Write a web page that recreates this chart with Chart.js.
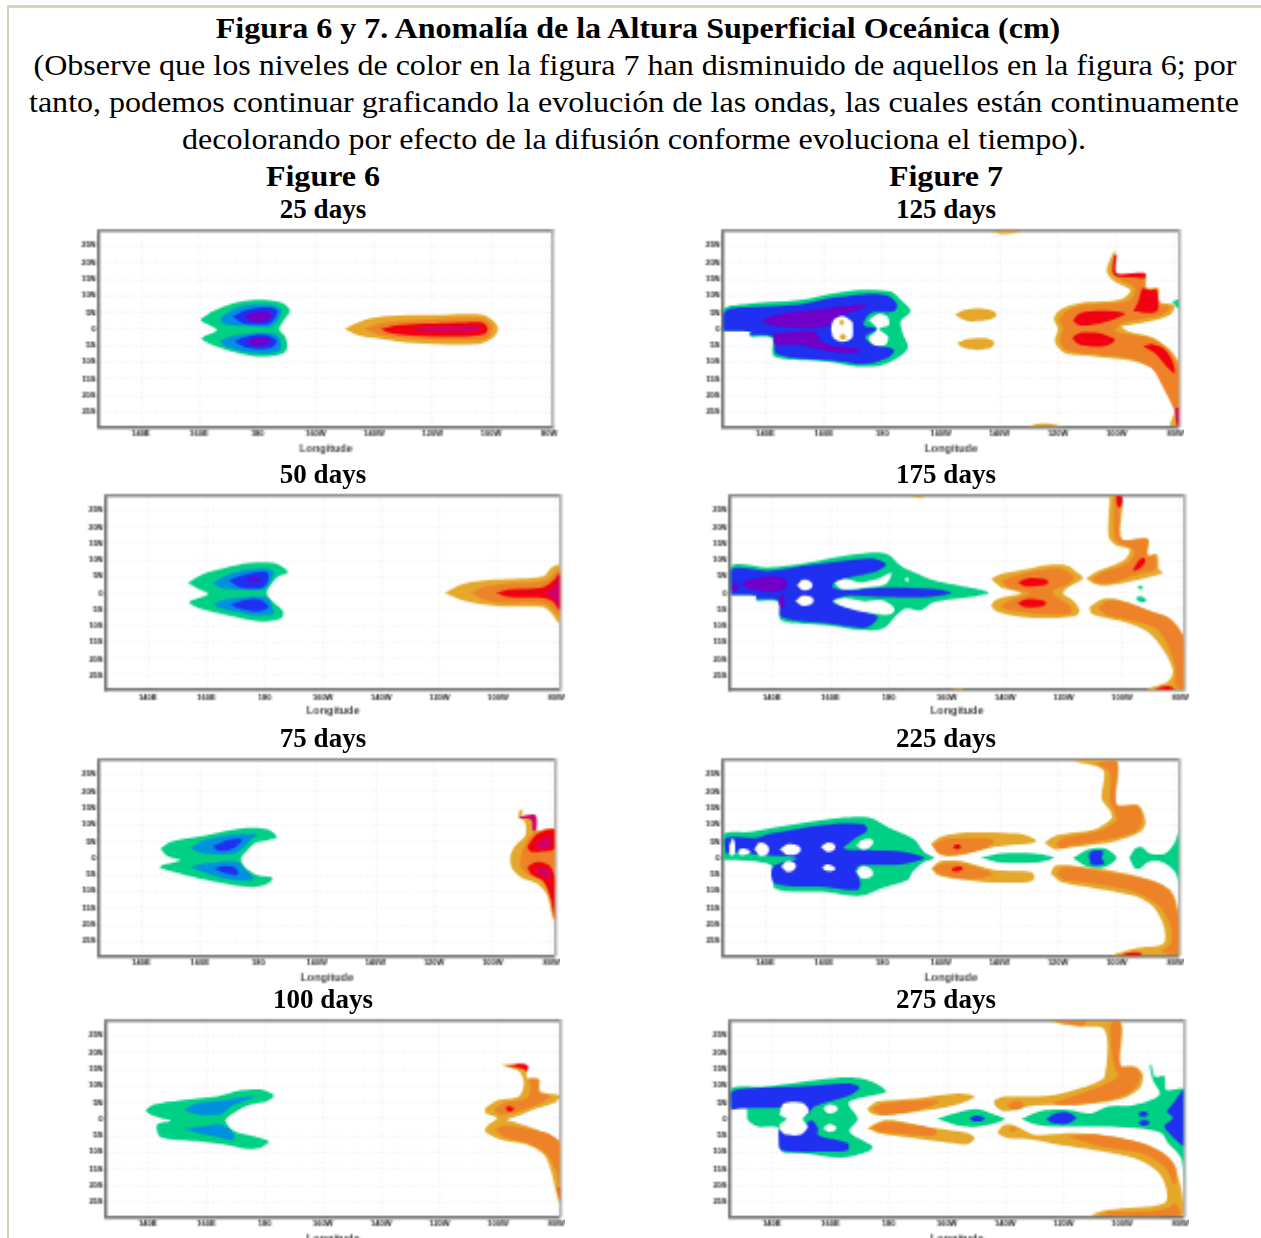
<!DOCTYPE html>
<html>
<head>
<meta charset="utf-8">
<title>Figura 6 y 7</title>
<script src="https://cdn.jsdelivr.net/npm/chart.js@4"></script>
<style>
html, body { margin: 0; padding: 0; background: #fff; width: 1261px; height: 1238px; overflow: hidden; }
#frame { position: absolute; left: 7px; top: 5px; width: 1252px; height: 1300px; border: 2px solid #d6d2bc; border-top-width: 3px; border-right: 1px solid #a8a68e; }
.txt { position: absolute; font-family: "Liberation Serif", serif; color: #000; white-space: nowrap; line-height: 1; }
.big { font-size: 30px; transform: translateX(-50%) scaleX(1.068); }
.bold { font-weight: bold; }
.day { font-size: 27px; font-weight: bold; transform: translateX(-50%); }
canvas { position: absolute; }
</style>
</head>
<body>
<div id="frame"></div>
<script>
// axis labels
const lonTicks = [140, 160, 180, 200, 220, 240, 260, 280];
const lonLabels = ['140E', '160E', '180', '160W', '140W', '120W', '100W', '80W'];
const latTicks = [25, 20, 15, 10, 5, 0, -5, -10, -15, -20, -25];
const latLabels = ['25N', '20N', '15N', '10N', '5N', '0', '5S', '10S', '15S', '20S', '25S'];

// every contour below is [longitude, latitude]

// 25 days
const d25Green = [[[160.6,3],[164.9,5.4],[170.6,7.4],[177.5,8.6],[184.3,8.6],[188.9,7.7],[191.2,5.4],[189.5,3.2],[187.5,0],[189.5,-2.3],[190.3,-5.3],[188.9,-7.3],[183.2,-8.3],[177.5,-8],[169.5,-6.3],[163.8,-4.6],[160.9,-2.8],[166.1,-.3],[160.9,2.2]]];
const d25Sky = [[[167.2,3.2],[171.8,6],[177.5,7.2],[184.3,7.2],[188.3,5.7],[186.6,2.2],[184.3,.7],[171.8,1],[168.3,1.7]],
  [[167.2,-3.6],[171.8,-2],[184.3,-1.3],[187.2,-2.3],[188.3,-5.3],[186.6,-7],[179.8,-7.3],[172.9,-6.3],[168.3,-4.8]]];
const d25Blue = [[[171.5,3.7],[176.3,5.7],[184.3,6.4],[186.9,5.2],[185.5,2.7],[183.2,1.4],[175.2,1.7]],
  [[172.3,-3.8],[176.3,-2.3],[183.2,-1.8],[186.6,-3.6],[184.9,-5.6],[179.8,-6],[175.2,-5.3]]];
const d25Purple = [[[175.7,3.7],[178.6,5],[183.2,5.2],[184.9,4],[183.2,2.4],[178.6,2]],
  [[176.3,-3.8],[179.8,-2.6],[183.2,-2.8],[184.3,-4],[182.1,-5],[178.6,-5]]];
const d25Amber = [[[209.9,0],[216.6,2.7],[224.6,3.9],[240.6,4.2],[256.6,4.4],[260.6,2.7],[262.5,0],[260.6,-2.8],[255.4,-4.6],[233.7,-4.3],[222.3,-3],[214.3,-1.8]]];
const d25Orange = [[[216.6,0],[222.3,1.7],[236,2.7],[256.6,3.2],[260,1.7],[260.6,0],[259.4,-2.3],[255.4,-3.3],[236,-3],[222.3,-1.8]]];
const d25Red = [[[222.3,0],[229.1,1.2],[252,2],[257.7,1.7],[258.9,0],[257.7,-1.6],[252,-2.3],[232.6,-2],[225.7,-1.3]]];
const d25Magenta = [[[232.6,0],[238.3,.6],[255.4,.7],[256.3,0],[255.4,-.8],[238.3,-.8]]];

// 50 days
const d50Green = [[[153.8,3],[159,5.7],[167,7.7],[175,9],[183,9],[186.4,7.7],[188.1,6.2],[184.7,5],[182.4,2.7],[180.7,0],[183,-2.8],[186.4,-5.6],[185.8,-7.6],[180.7,-8.6],[173.8,-8],[164.7,-6.3],[157.3,-4.6],[154.2,-2.8],[160.7,-.3],[157.3,1.2]]];
const d50Sky = [[[162.4,3],[167,5.4],[175,7.2],[183,6.7],[181.8,3.2],[179.5,1],[170.4,1],[164.7,1.7]],
  [[162.6,-3.3],[167,-1.8],[180.7,-1.3],[182.7,-4.3],[183,-6.3],[177.3,-6.8],[170.4,-5.8],[164.7,-4.6]]];
const d50Blue = [[[167.9,3.7],[172.7,5.4],[180.7,6.4],[181.3,4.2],[179.5,1.7],[171.5,1.7]],
  [[168.3,-3.6],[172.7,-2.3],[178.4,-2],[181.3,-4.3],[178.4,-5.6],[172.7,-5]]];
const d50Purple = [[[173.8,4],[176.1,4.6],[178.4,4.2],[176.7,3.4]]];
const d50Amber = [[[241.8,0],[248.1,2.7],[259.5,4],[275.5,5],[278.4,7.7],[281.3,8.4],[281.3,-9.3],[278.4,-6.3],[275.5,-4.3],[259.5,-4],[248.1,-2.3]]];
const d50Orange = [[[251,0],[255,1.7],[261.8,2.7],[276.7,3.7],[281.3,7.2],[281.3,-6.8],[276.7,-3.3],[261.8,-3],[255,-1.8]]];
const d50Red = [[[259.3,0],[264.1,1],[275.5,1.7],[279,3.7],[281.3,6],[281.3,-5.3],[279,-2.8],[275.5,-1.6],[264.1,-1.3]]];
const d50Magenta = [[[275.5,0],[279,1.7],[281.3,5],[281.3,-4.3],[279,-1.8]]];

// 75 days
const d75Green = [[[146.6,2.8],[150.1,4.8],[159.2,6.3],[168.3,8],[176.3,9],[183.2,8.6],[186.4,6.3],[183.2,5.3],[179.2,4.6],[176.3,2.3],[174.1,-.2],[175.8,-3],[179.8,-5.2],[184.9,-6],[183.2,-7.7],[178.1,-8.7],[170.6,-8],[159.2,-6],[152.3,-4.4],[146.4,-2.7],[153.5,-.7],[148.9,.6]]];
const d75Sky = [[[156.9,2.8],[160.3,5],[169.5,6.8],[179.8,7],[177.5,5.6],[174.6,2.8],[171.8,1.3],[161.5,1.3]],
  [[156.9,-2.7],[161.5,-1.7],[172.9,-1.2],[175.8,-3.7],[178.4,-6.4],[171.8,-6.7],[163.8,-5]]];
const d75Blue = [[[164.7,3.6],[169.5,5.3],[174.6,5.5],[172.3,3.3],[169.5,2.3],[166.1,2.3]],
  [[164.9,-3.2],[169.5,-2.5],[172.3,-3.2],[172.9,-5],[169.5,-4.7]]];
const d75Amber = [[[269,14],[270.3,14.6],[270,12.3],[274.6,12.3],[274.6,8.3],[281.3,8.3],[281.3,-19.2],[280.3,-17.2],[278.6,-11.2],[275.2,-7.7],[270.1,-6],[266.6,-3.2],[266.1,.8],[267.8,3.8],[271.2,6.8],[271,10.8],[268.9,12.3]]];
const d75Orange = [[[269.5,-.2],[271.2,4.3],[274.6,7.8],[281.3,8.3],[281.3,-10.2],[276.9,-6.7],[272.3,-5.2],[269.5,-2.7]]];
const d75Red = [[[271.8,3.3],[274.6,6.8],[278.1,8.3],[281.3,8.3],[281.3,2.8],[275.8,1.8],[272.9,2]],
  [[271.8,-2.7],[275.2,-1.2],[279.2,-2.2],[281.3,-6.2],[281.3,-18.7],[279.8,-12.2],[277.5,-7.2],[273.5,-5.2]]];
const d75Magenta = [[[268.9,12.3],[274.6,12.8],[274.9,8.3],[273.7,8.3],[273.3,11.3],[269.5,11.8]],
  [[274.1,3.3],[278.1,6],[280.3,5.6],[278.1,2.8]],
  [[274.6,-3.2],[278.1,-3.2],[279.8,-5.7],[276.3,-5]]];

// 100 days
const d100Green = [[[139.2,2.6],[142.1,4.3],[151.2,5.6],[163.8,6.8],[171.8,8.6],[178.6,8.8],[183.2,7],[180.9,5.3],[175.2,4.3],[169.5,1.8],[166.6,-.4],[169.5,-3.7],[175.2,-5],[181.5,-6.7],[179.2,-8.4],[174.6,-9],[168.3,-8],[156.9,-6.7],[144.3,-5.4],[143.2,-1.7],[148.3,-.7],[144.3,.3],[140.9,1.3]]];
const d100Sky = [[[152.3,2.8],[156.9,4.6],[164.9,5.6],[176.3,6.8],[172.9,5.3],[168.3,3.8],[164.9,1.3],[156.9,1.3]],
  [[152.3,-3.2],[159.2,-2.2],[166.1,-2],[169.5,-6],[162.6,-5.2]]];
const d100Amber = [[[260.9,16.3],[269.5,16],[270.1,12.3],[274.1,12],[274.6,8.3],[281.3,7],[279.8,5],[273.5,3.3],[266.6,.8],[263.2,-.4],[266.6,-1.2],[273.5,-3.2],[279.2,-5.7],[281.3,-6.7],[281.3,-25.7],[279.8,-21.2],[278.1,-15.2],[275.8,-10.7],[270.1,-7.7],[260.9,-6.2],[255.8,-4],[255.8,-2.7],[258.6,-.7],[259.8,.3],[255.8,1.8],[255.8,3.3],[259.8,5.6],[267.2,6.8],[268.9,10.8],[267.2,14.3]]];
const d100Orange = [[[258.6,2.8],[262.1,4.8],[270.1,6.3],[271.2,10.3],[270.6,12],[273.7,11.8],[274.1,7.8],[278.1,6.8],[273.5,4.3],[266.6,2.3],[260.9,1.3]],
  [[259.1,-3.2],[262.1,-2],[271.2,-3.2],[278.1,-4.7],[281.3,-7.7],[281.3,-21.2],[279.8,-15.2],[276.4,-10.2],[269,-7],[262.1,-5.4]]];
const d100Red = [[[262.6,3.3],[264.1,3.8],[265.5,3],[263.8,2.3]],
  [[262.6,16],[269.9,16.3],[269.9,14.3],[268.4,15]],
  [[280.6,-20.7],[281.3,-20.7],[281.3,-25.2]]];

// 125 days
const d125Green = [[[125.9,-.6],[125.9,6],[132.6,7.4],[152,8.7],[163.4,10.7],[172.6,11.7],[182.9,11.2],[186.3,8.7],[189.7,5.4],[186.3,2.2],[187.2,-1.8],[188.8,-5.6],[185.1,-8.8],[179.4,-11],[171.4,-11.3],[161.1,-9.8],[143.1,-8.3],[142.3,-2.8],[134.9,-2.3],[134.9,-.8]],
  [[278.9,8.2],[281.3,8.7],[281.3,6]]];
const d125Blue = [[[125.9,-.6],[125.9,4.7],[128,6],[132.6,6.4],[152,7.4],[163.4,9.4],[173.7,10.4],[181.7,10],[185.1,7.2],[184,5.2],[176,4.7],[173.7,1.2],[178.3,0],[174.3,-2.3],[176,-4.3],[184,-6.3],[181.7,-8.8],[174,-10.6],[165.7,-9.8],[144,-7.6],[142.6,-2.3],[134.9,-1.8],[134.9,-.8]]];
const d125Purple = [[[139,2.7],[144,4.2],[156.6,5.7],[174.9,7.4],[172.6,6],[165.7,3.7],[161.1,.7],[149.7,.4],[141.7,1.2]],
  [[143.1,-1.3],[156.6,-.8],[160,-4.3],[172.6,-6.3],[171.4,-7.3],[161.1,-6.6],[152,-4.8],[143.4,-4.6]]];
const d125Holes = [[[175.4,2.7],[178.3,4.4],[181.7,3.7],[182.3,1.2],[178.9,0],[182,-2.3],[181.1,-4.8],[177.1,-4.8],[175.4,-2.8],[178.3,0]],
  [[162.5,0],[163.4,2.7],[166.3,3.9],[169.7,2.2],[170,.2],[169.7,-2.8],[166.3,-4],[163.4,-2.8]]];
const d125Amber = [[[165.4,2],[166,2.7],[167,2],[166,1.2]],
  [[165.4,-2.4],[166.3,-1.6],[167.7,-2.4],[166.3,-3.3]],
  [[204.8,4.2],[208,5.7],[213.7,6.2],[218.3,5.2],[218.9,3.7],[216,2.7],[209.1,2.4]],
  [[205.5,-4.3],[209.1,-3],[214.9,-2.8],[218.3,-4],[217.1,-5.6],[212.6,-6.3],[208,-5.8]],
  [[216.6,29.4],[226.9,29.4],[221.7,28.4]],
  [[229.1,-29.4],[235.4,-28.3],[240.6,-29.4]],
  [[259.4,23.7],[260,16.7],[269.7,16.4],[270.3,12.4],[274.3,12.2],[274.5,8.2],[279.8,7],[278.3,4.2],[270.9,2.2],[264.6,1.2],[261.7,.7],[264,-.8],[271.4,-2.3],[277.7,-5.8],[281.3,-10.8],[281.3,-29.3],[278.3,-29],[280,-23.8],[277.1,-18.8],[273.7,-12.8],[266.3,-9.8],[252.6,-8.3],[242.3,-7.3],[238.9,-3.8],[240,0],[238.6,3.2],[241.1,6],[246.9,7.7],[254.9,8.2],[262.3,9.2],[264.6,11.7],[259.4,14.2],[256.6,17.2],[257.7,20.7]]];
const d125Orange = [[[240.2,2.7],[242.9,5.4],[249.1,7.2],[259.4,7.7],[264.6,8.7],[266.3,12.2],[260.6,15],[258.3,17.2],[259.4,22.7],[260,16.4],[269.1,15.7],[269.7,11.7],[273.7,11.2],[273.7,7.4],[278.3,6.7],[276,4.4],[268.6,3],[261.7,1.7],[259.4,-.8],[272,-3],[277.7,-6.3],[281.1,-11.8],[281.3,-27.8],[279.4,-23.8],[275.4,-16.8],[272,-11.8],[264,-8.8],[252.6,-7.6],[242.9,-6.3],[240.6,-3.3],[241.7,0]]];
const d125Red = [[[265.7,5.2],[267.4,8.2],[268.8,12.2],[270.9,11.7],[273.7,11.7],[273.7,5.2]],
  [[259.2,22.2],[260,22.2],[260,16.7],[269.7,16.7],[269.7,15.2],[268.6,15.2],[259.2,16.2]],
  [[245.1,2.7],[247.4,4.7],[254.9,5.4],[262.9,4.7],[258.3,2.7],[251.4,1.2],[246.9,1.2]],
  [[244.8,-2.8],[247.4,-1.3],[253.7,-1.3],[259.4,-3.3],[257.1,-4.8],[251.4,-5.3],[246.9,-4.6]],
  [[269.1,-5.3],[272,-4.6],[276.6,-6.3],[279.1,-9.8],[279.8,-13.3],[277.1,-11.3],[273.1,-7.3]]];
const d125Magenta = [[[280,-23.8],[281.3,-23.8],[281.3,-29.3],[280.6,-29]]];

// 175 days
const d175Green = [[[126.1,-.6],[126.1,8.2],[138.6,7.7],[150.1,8.7],[161.5,10.7],[174.1,12.2],[179.8,11.7],[184.3,8.2],[188.9,6.2],[195.8,3.7],[214.3,0],[195.8,-2.8],[191.2,-5.3],[187.8,-4.8],[185.5,-4.8],[182.6,-6.8],[178.1,-10.8],[170.6,-11.3],[159.2,-9.8],[143.2,-8.3],[142.3,-2.8],[134.6,-2.3],[134.6,-.8]],
  [[265.3,1.7],[266.4,2.2],[267.2,1.5],[266.1,1.2]],
  [[264.6,-1.6],[266.4,-1.1],[268.3,-2.3],[266.4,-2.8]]];
const d175Blue = [[[126.1,-.6],[126.1,7.2],[138.6,6.7],[150.1,8.2],[161.5,9.4],[174.1,10.4],[179.2,8.7],[176.3,6.7],[169.5,5.2],[161.5,3.2],[160.9,1.7],[166.1,1],[179.8,1.7],[195.8,1.2],[201.5,0],[193.5,-1.3],[179.8,-1.3],[166.1,-.8],[160.9,-2.5],[161.5,-3.3],[170.6,-5.3],[176.3,-7.3],[174,-9.8],[170.6,-10.6],[159.2,-9.3],[143.2,-7.3],[142.3,-2.3],[134.6,-1.8],[134.6,-.8]]];
const d175Holes = [[[161.5,3.2],[164.9,4.2],[170.6,3.2],[176.3,4.2],[180.9,6],[179.2,2.7],[172.9,1.7],[163.8,1.2]],
  [[160.9,-2.3],[164.9,-1.6],[171.8,-2.6],[178.1,-2.3],[182.1,-4.8],[180.3,-6.6],[170.6,-5.6],[163.8,-4]],
  [[148.6,2.2],[151.2,4],[154,2.2],[151.2,.8]],
  [[148,-2.5],[151.2,-.8],[154.4,-2.3],[151.2,-4]],
  [[185.6,4],[186.3,4.6],[187,4],[186.3,3.4]]];
const d175Purple = [[[129.5,2.7],[132.9,4],[144.1,4.4],[144.1,1],[132.9,1]],
  [[126.6,2.7],[128,3.2],[128,.7],[126.3,1]],
  [[142.6,-.8],[144.1,-.8],[143.8,-4.6],[142.6,-3.8]]];
const d175Amber = [[[215.2,4.2],[218.6,5.7],[227.8,7.2],[234.6,8.4],[241.5,8.2],[244.9,6],[246.6,4.4],[242.6,2.2],[239.8,0],[243.2,-2.3],[245.5,-5.3],[243.8,-7],[235.8,-7.6],[225.5,-7.3],[217.5,-5.8],[215.2,-3.8],[217.5,-1.8],[225.5,0],[218.6,1.7]],
  [[247.8,4.4],[251.8,6.7],[260.9,10],[262.6,13.2],[257.5,14.7],[255.4,17.2],[255.8,29],[255.2,29.2],[260,29.2],[260,16.4],[268.9,16.4],[268.9,11.7],[272.1,11.7],[272.6,7.2],[274.1,6],[264.3,3.7],[255.2,2.2],[250.6,2.7]],
  [[248.9,-4.3],[252.9,-2],[258.7,-2],[267.8,-4.8],[275.8,-7.8],[280.3,-12.8],[281.3,-17.8],[281.3,-29.3],[268.3,-29.3],[275.8,-26.8],[277.5,-23.8],[274.6,-17.8],[268.9,-11.8],[260.9,-8.8],[252.9,-7.3],[249.5,-6.3]],
  [[187.2,29.3],[192.3,29.3],[190,28.8]],
  [[200.9,-29.3],[206.1,-29.3],[203.8,-29]]];
const d175Orange = [[[218.6,3.7],[225.5,5.7],[234.6,7.2],[240.3,7],[243.5,4.7],[241.5,2.7],[236.3,.7],[236.9,-.8],[242.6,-4.3],[242.1,-6.3],[235.8,-6.6],[225.5,-5.8],[218.6,-4.3],[221.5,-2.3],[228.3,0],[220.9,1.7]],
  [[249.5,4.2],[252.9,6],[262,9],[264.3,12.7],[258.7,15.2],[257.5,16.7],[257.5,29.2],[259.6,29.2],[259.6,16.4],[268.7,16.2],[268.7,11.2],[271.4,11.2],[271.4,7.2],[265.4,5.7],[256.3,3],[251.8,3]],
  [[251.8,-4.8],[255.2,-2.3],[260.9,-2.8],[268.9,-5.3],[275.8,-7.3],[280.9,-12.8],[281.3,-19.8],[281.3,-29],[278.1,-27.8],[278.6,-23.8],[276.3,-16.8],[271.8,-10.8],[263.2,-8.3],[255.2,-6.8]]];
const d175Red = [[[224.3,3.2],[227.8,4.4],[233.5,4.2],[234.9,3.2],[232.4,2.2],[227.2,2]],
  [[224.1,-3],[227.8,-1.8],[233,-2.3],[234.1,-3.3],[231.2,-4.3],[226.6,-4.3]],
  [[263.8,7],[266.6,10.4],[268,10],[266.9,8.2],[264.3,6.7]],
  [[258,29.2],[260,29.2],[259.7,26.2],[258.6,26.2]],
  [[271.2,-29.3],[274.1,-28.3],[277.5,-28.6],[277.5,-29.3]]];

// 225 days
const d225Green = [[[125.9,-.7],[125.9,7],[134.9,7.8],[152,10.3],[165.7,12],[176,12],[181.7,9.3],[190.9,5.6],[194.3,1.8],[197.7,0],[194.3,-1.2],[190.3,-4.2],[188.6,-6.7],[179.4,-9.2],[172.6,-11.4],[161.1,-10.2],[143.4,-9.2],[142.6,-2.7],[134.9,-1]],
  [[213.7,0],[220.6,1.3],[232,1.3],[238.6,0],[232,-1.4],[220.6,-1.4]],
  [[245.1,0],[250.3,2.6],[256,2.8],[260,0],[256,-2.7],[250.3,-2.7]],
  [[264.3,0],[266.3,2.8],[268.6,3.3],[271.4,1.3],[276.6,1.3],[280,4.8],[281.3,8.6],[281.3,-7.7],[280,-4.2],[275.4,-1.2],[270.9,-1.2],[268,-3.2],[266.3,-3.2]]];
const d225Blue = [[[126.6,1.3],[126.6,6],[137.1,6],[140.6,7],[152,8.8],[165.7,10.3],[173.7,10],[174.9,8.3],[170.3,5.6],[166.9,2.8],[177.1,2.3],[186.3,2],[194.5,0],[186.3,-2],[178.3,-2.2],[171.4,-2.7],[172.6,-7.7],[171.4,-9.7],[161.1,-8.7],[143.4,-7.7],[142.6,-2.7],[150.9,-.2],[138.3,.8],[132.6,1.8]],
  [[250.3,.8],[251.4,2],[255.4,2],[254.9,0],[255.9,-1.7],[251.4,-2.2],[250.9,-.7]]];
const d225Holes = [[[127.8,3.8],[129.1,5.8],[129.7,1.3],[128.2,.8]],
  [[130.9,2.3],[132.6,2.8],[134.9,1.8],[131.5,.8]],
  [[136.3,2.6],[138.5,4.6],[141.4,2.6],[138.9,.5]],
  [[145,2.6],[148.6,4.2],[152.2,2.6],[148.6,.8]],
  [[145.4,-2.6],[148,-1],[150.6,-2.4],[148,-4.2]],
  [[159,3.3],[161.7,4.6],[164,3.3],[161.7,1.8]],
  [[159.4,-2.7],[161.7,-2],[164,-3.4],[161.1,-4]],
  [[171,3.8],[174,5.6],[176.9,5],[174.3,2.6]],
  [[171,-4.2],[173.7,-2.5],[176.9,-4.7],[173.7,-6.2]]];
const d225Amber = [[[196.6,4.3],[200,6.3],[209.1,7.6],[226.3,7.3],[232.6,5.3],[230.3,4.3],[218.3,3.3],[206.9,.8],[200,.8]],
  [[196.8,-3.2],[200,-1],[206.9,-1],[218.3,-3.7],[230.9,-4.2],[232,-6],[229.8,-7.2],[217.1,-7.4],[205.7,-6.4],[198.9,-5.2]],
  [[235.4,4.6],[239.4,6.8],[252.6,8.6],[258.3,11.8],[257.7,14.3],[254.9,17.8],[255.4,26.3],[245.1,29],[260,29],[260,16.3],[267.4,15.8],[269.9,10.8],[268,7.8],[259.4,5],[245.7,3.3],[238.9,2.6]],
  [[237.5,-4.7],[238.9,-2.4],[243.4,-2.2],[260.6,-4.2],[272,-6.7],[278.9,-10.2],[281.3,-18.2],[281.3,-29.4],[258.9,-29.4],[266.3,-27.2],[276,-25.7],[276,-20.2],[272,-14.2],[265.1,-11.2],[250.3,-8.7],[241.1,-7.2]]];
const d225Orange = [[[197.1,3.8],[201.1,5.6],[213.7,6],[218.3,5.3],[214.9,2.8],[205.7,1],[199.4,1.3]],
  [[197.1,-3.2],[200.6,-1.7],[206.9,-1.7],[216,-4],[217.7,-5.2],[213.7,-6],[205.7,-6],[199.4,-4.7]],
  [[239.4,4.3],[242.3,6],[254.9,8.3],[260,11.3],[259.4,13.8],[257.7,16.8],[257.7,25.8],[253.1,28.3],[260,29],[260,16],[267.4,15.3],[268.8,10.8],[266.3,7.8],[257.1,5.6],[244.6,3.8],[240.6,3]],
  [[239.4,-4.7],[241.7,-2.7],[257.1,-4.4],[270.9,-6.7],[278.3,-10.2],[281.1,-18.2],[281.3,-29],[275.4,-28.2],[278.6,-25.7],[278.3,-20.2],[274.3,-14.2],[266.3,-10.2],[252.6,-7.7],[242.3,-6.7]]];
const d225Red = [[[204,3.3],[205.5,4],[206.9,3.3],[205.5,2.6]],
  [[203.7,-3.2],[207.1,-2.7],[207.1,-3.7],[204,-3.9]],
  [[261,-29.4],[265.1,-28.4],[268.6,-28.7],[266.3,-29.4]]];

// 275 days
const d275Green = [[[126.1,3.2],[126.1,9.2],[138.6,9.7],[155.8,11.7],[167.2,12.4],[174.1,11.2],[179.2,8.2],[172.9,6.7],[166.6,5.2],[166.6,3.7],[169.5,0],[166.6,-3.8],[174.6,-8.3],[172.9,-9.8],[163.8,-11.6],[150.1,-10.3],[143.2,-9.6],[142.3,-2.8],[135.2,-2.3],[131.8,-.3],[131.2,3.2]],
  [[196.7,0],[202.6,1.7],[210,3],[215.2,1.7],[219.8,0],[214.1,-1.8],[206.1,-2.3]],
  [[225.5,0],[232.3,2.4],[241.5,2.7],[249.5,1.7],[255.2,3.7],[264.3,4.2],[272.9,7.2],[270.6,11.7],[269.5,16.2],[270.1,16.2],[271.2,12.7],[274.6,12.7],[275.2,8.7],[281.3,8.7],[281.3,-19.8],[280.3,-11.8],[275.8,-7.3],[273.5,-4.3],[264.3,-2.8],[252.9,-2.3],[241.5,-2.3],[231.2,-1.8]]];
const d275Blue = [[[126.1,2.7],[126.3,8.2],[150.1,9.7],[166.1,10.7],[170.1,9.4],[166.6,7],[154.6,3.7],[152.3,1.2],[150.1,4.2],[143.2,3.4],[129.5,3.2]],
  [[142.3,-3.3],[150.1,-2.8],[153.5,-.3],[155.8,-2.8],[155.8,-4.8],[166.1,-7.3],[166.1,-9.3],[159.2,-9.8],[143.2,-9.3],[142.3,-5.8]],
  [[207.8,0],[210,1],[212.9,0],[210,-.8]],
  [[234.1,0],[237,1.7],[241.5,1.9],[244.3,.2],[240.9,-1.6],[236.3,-1.3]],
  [[275.2,2.2],[278.1,5.2],[281.3,8.7],[281.3,-7.8],[276.9,-4.8],[274.6,-2.3],[277.5,.2]],
  [[265.5,1.7],[267.8,2.2],[268.9,1.2],[266.6,.7]],
  [[265.5,-1],[267.8,-.3],[269.5,-1.3],[267.2,-2.1]]];
const d275Holes = [[[142.6,1.2],[144,4.6],[150.6,4.8],[152.8,2.2],[150.6,0],[152.4,-2.3],[150,-4.7],[144,-4.4],[142.6,-1.8],[145,0]],
  [[157.5,3.2],[159.8,4.4],[162.6,3.2],[159.8,1.7]],
  [[157.5,-2.8],[159.8,-1.5],[162.1,-2.8],[159.8,-4]]];
const d275Amber = [[[172.7,3.2],[176.3,5.2],[190.1,6.2],[203.8,7.7],[209.5,6.7],[204.9,4.7],[193.5,2.7],[178.6,1],[174.1,1.7]],
  [[172.7,-2.8],[177.5,-.6],[183.2,-.6],[195.8,-2.8],[207.2,-4.3],[209.5,-5.8],[207.2,-7.6],[198.1,-6.8],[184.3,-5.3],[176.3,-4.3]],
  [[216.3,5.7],[219.8,6.7],[225.5,6.7],[236.9,7.2],[250.6,10.7],[254.1,12.7],[254.1,26.7],[245,27.7],[235.8,29.2],[259.2,29.2],[259.5,16.2],[264.8,15.7],[267.2,13.2],[266.1,9.2],[259.8,6],[250.6,4.7],[230.1,4],[225.5,3.2],[219.2,2.4],[216.3,4.4]],
  [[217.3,-4.3],[219.2,-2],[223.2,-2],[230.1,-4.8],[241.5,-4.3],[252.9,-4.8],[268.9,-7.8],[276.9,-12.8],[280.3,-20.8],[280.9,-29],[249.5,-29],[255.2,-27.3],[274.6,-25.3],[275.2,-20.8],[272.3,-15.8],[264.3,-11.8],[250.6,-9.3],[239.2,-7.8],[230.1,-6.3],[220.9,-5.8]]];
const d275Orange = [[[174.6,3.2],[178.1,4.7],[190.1,5.4],[197.5,5.2],[190.1,2.7],[178.6,1.2],[175.7,2]],
  [[174.1,-2.8],[178.6,-1],[184.3,-1.3],[196.3,-3.3],[195.8,-5],[186.6,-4.6],[177.5,-4]],
  [[235.8,4.7],[244.9,7.2],[254.1,10.4],[258.7,12.7],[257.5,15.7],[256.4,21.2],[256.4,28.7],[259.5,29.2],[259.5,16],[264.3,15.4],[266.4,13.2],[264.3,9.2],[258.7,6.4],[249.5,4.7],[239.2,4.2]],
  [[220.9,4.2],[223.2,5.4],[226.1,4.7],[224.9,3],[222,3]],
  [[237,29.2],[247.2,29.2],[247.2,28.2],[241.5,28.4]],
  [[241.5,-5.3],[250.6,-4.6],[266.6,-7.3],[275.2,-10.8],[278.6,-14.8],[278.1,-19.8],[274.6,-14.3],[266.6,-10.3],[252.9,-8.3]],
  [[250.6,-29],[257.5,-27.8],[267.8,-27.8],[275.8,-26.8],[278.1,-25.3],[280.3,-29]],
  [[221.5,-3],[222.6,-2.6],[223.8,-3.3],[222.3,-3.8]]];

const levelColors = {
  green: '#00d084', sky: '#0090e0', blue: '#2030f0', purple: '#7000c8', hole: '#ffffff',
  amber: '#e5a82a', orange: '#ee8228', red: '#f00010', magenta: '#d0006a'
};

const panels = [
  { title: '25 days', box: [99, 229, 553, 426], levels: [['green', d25Green], ['sky', d25Sky], ['blue', d25Blue], ['purple', d25Purple], ['amber', d25Amber], ['orange', d25Orange], ['red', d25Red], ['magenta', d25Magenta]] },
  { title: '50 days', box: [106, 494, 559, 690], levels: [['green', d50Green], ['sky', d50Sky], ['blue', d50Blue], ['purple', d50Purple], ['amber', d50Amber], ['orange', d50Orange], ['red', d50Red], ['magenta', d50Magenta]] },
  { title: '75 days', box: [99, 758, 554, 955], levels: [['green', d75Green], ['sky', d75Sky], ['blue', d75Blue], ['amber', d75Amber], ['orange', d75Orange], ['red', d75Red], ['magenta', d75Magenta]] },
  { title: '100 days', box: [106, 1019, 559, 1216], levels: [['green', d100Green], ['sky', d100Sky], ['amber', d100Amber], ['orange', d100Orange], ['red', d100Red]] },
  { title: '125 days', box: [723, 229, 1178, 426], levels: [['green', d125Green], ['blue', d125Blue], ['purple', d125Purple], ['hole', d125Holes], ['amber', d125Amber], ['orange', d125Orange], ['red', d125Red], ['magenta', d125Magenta]] },
  { title: '175 days', box: [730, 494, 1183, 690], levels: [['green', d175Green], ['blue', d175Blue], ['hole', d175Holes], ['purple', d175Purple], ['amber', d175Amber], ['orange', d175Orange], ['red', d175Red]] },
  { title: '225 days', box: [723, 758, 1178, 955], levels: [['green', d225Green], ['blue', d225Blue], ['hole', d225Holes], ['amber', d225Amber], ['orange', d225Orange], ['red', d225Red]] },
  { title: '275 days', box: [730, 1019, 1183, 1216], levels: [['green', d275Green], ['blue', d275Blue], ['hole', d275Holes], ['amber', d275Amber], ['orange', d275Orange]] }
];

function addText(str, cls, cx, top) {
  const el = document.createElement('div');
  el.className = 'txt ' + cls;
  el.textContent = str;
  el.style.left = cx + 'px';
  el.style.top = top + 'px';
  document.body.appendChild(el);
}

addText('Figura 6 y 7. Anomalía de la Altura Superficial Oceánica (cm)', 'big bold', 638, 13);
addText('(Observe que los niveles de color en la figura 7 han disminuido de aquellos en la figura 6; por', 'big', 635, 50);
addText('tanto, podemos continuar graficando la evolución de las ondas, las cuales están continuamente', 'big', 634, 87);
addText('decolorando por efecto de la difusión conforme evoluciona el tiempo).', 'big', 634, 124);
addText('Figure 6', 'big bold', 323, 161);
addText('Figure 7', 'big bold', 946, 161);

function edgeAxis(position, color) {
  return {
    position: position,
    min: -1,
    max: 1,
    ticks: { display: false },
    grid: { display: false, drawTicks: false },
    border: { color: color, width: 3 },
    afterFit: function(axis) {
      if (position == 'top') axis.height = 0; else axis.width = 0;
    }
  };
}

function drawPanel(panel) {
  const [l, t, r, b] = panel.box;
  const canvas = document.createElement('canvas');
  const w = r - l + 44, h = b - t + 38;
  canvas.width = w;
  canvas.height = h;
  canvas.style.left = (l - 38) + 'px';
  canvas.style.top = (t - 4) + 'px';
  document.body.appendChild(canvas);

  const cx = panel.box[0] < 600 ? 323 : 946;
  addText(panel.title, 'day', cx, t - 33);

  const datasets = [];
  for (const [level, polys] of panel.levels) {
    for (const poly of polys) {
      const pts = poly.concat([poly[0]]).map(p => ({ x: p[0], y: p[1] }));
      datasets.push({
        label: level,
        data: pts,
        showLine: true,
        fill: 'shape',
        backgroundColor: levelColors[level],
        borderColor: levelColors[level],
        borderWidth: 0,
        pointRadius: 0,
        // small blobs need a rounder curve or they come out as diamonds
        tension: poly.length <= 5 ? 0.55 : 0.3
      });
    }
  }
  // chart.js paints the first dataset on top
  datasets.reverse();

  new Chart(canvas, {
    type: 'scatter',
    data: { datasets: datasets },
    options: {
      responsive: false,
      animation: false,
      devicePixelRatio: 0.5,
      layout: { padding: { left: 4, top: 4, right: 6, bottom: 6 } },
      plugins: { legend: { display: false }, tooltip: { enabled: false } },
      scales: {
        x: {
          type: 'linear',
          min: 125.7,
          max: 281.3,
          afterBuildTicks: function(axis) { axis.ticks = lonTicks.map(v => ({ value: v })); },
          afterFit: function(axis) { axis.height = 28; },
          ticks: {
            autoSkip: false, maxRotation: 0, padding: 0,
            color: '#222', font: { family: 'Liberation Sans', size: 8, weight: 'bold' },
            callback: function(v) { return lonLabels[lonTicks.indexOf(v)]; }
          },
          grid: { color: '#e4e4e4', lineWidth: 1, tickLength: 2 },
          border: { color: '#707070', width: 3, dash: [2, 3] },
          title: { display: true, text: 'Longitude', color: '#444', padding: 0, font: { family: 'Liberation Sans', size: 11, weight: 'bold' } }
        },
        y: {
          type: 'linear',
          min: -29.4,
          max: 29.4,
          afterBuildTicks: function(axis) { axis.ticks = latTicks.map(v => ({ value: v })); },
          afterFit: function(axis) { axis.width = 34; },
          ticks: {
            autoSkip: false, padding: 1,
            color: '#222', font: { family: 'Liberation Sans', size: 8, weight: 'bold' },
            callback: function(v) { return latLabels[latTicks.indexOf(v)]; }
          },
          grid: { color: '#e4e4e4', lineWidth: 1, tickLength: 2 },
          border: { color: '#707070', width: 3, dash: [2, 3] }
        },
        xTop: edgeAxis('top', '#8c8c8c'),
        yRight: edgeAxis('right', '#b0b0b0')
      }
    }
  });
}

panels.forEach(drawPanel);
</script>
</body>
</html>
